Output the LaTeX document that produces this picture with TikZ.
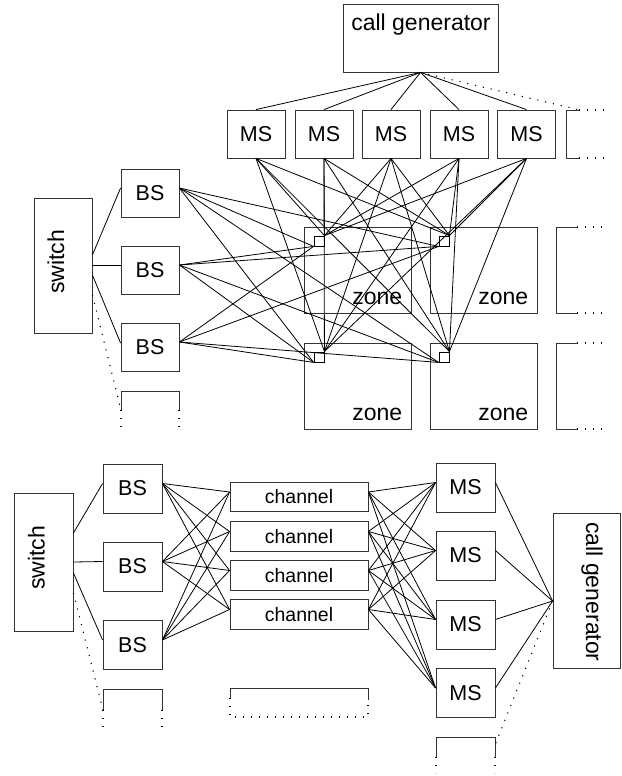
\documentclass[tikz,border=0pt]{standalone}
\usepackage{fontspec}
\setmainfont{Liberation Sans}
\begin{document}
\begin{tikzpicture}[x=1pt,y=-1pt,
  every node/.style={font=\fontsize{21.5}{24}\selectfont},
  big/.style={font=\fontsize{23}{26}\selectfont},
  boxline/.style={draw=black!80, line width=0.85pt},
  box/.style={boxline, inner sep=0pt, minimum width=58pt, minimum height=48pt},
  wire/.style={line width=0.8pt},
  dots/.style={line width=1.1pt, dash pattern=on 1.1pt off 6.9pt},
  sq/.style={draw, line width=0.85pt, inner sep=0pt, minimum size=10pt},
  lbl/.style={inner sep=0pt},
  chbox/.style={box, minimum width=138pt, minimum height=29.5pt, font=\fontsize{19.5}{22}\selectfont}
]
\useasboundingbox (0,0) rectangle (621,776);

% ---------------- upper model: zones ----------------
\node[box, minimum width=155pt, minimum height=68pt] (cgT) at (420.5,38) {};
\node[lbl, big, anchor=base] (cgTtext) at (421,31) {call generator};

\foreach \x [count=\i] in {256,324,391,459,526.5}
  \node[box] (mt\i) at (\x,134) {MS};
% open-ended sixth mobile station
\draw[boxline] (579,110) -- (566,110) -- (566,158) -- (579,158);
\draw[dots] (579,110) -- (606,110);
\draw[dots] (579,158) -- (606,158);
\coordinate (mt6) at (580,110);

\foreach \i in {1,...,5}
  \draw[wire] (cgT.south) -- (mt\i.north);
\draw[dots] (cgT.south) -- (mt6);

\node[box, minimum width=58pt, minimum height=135pt] (swT) at (63,265.5) {};
\node[lbl, big, rotate=90] (swTtext) at (56,262) {switch};

\foreach \y [count=\i] in {193,270,347}
  \node[box] (bt\i) at (150,\y) {BS\hspace{5pt}};
% open-ended fourth base station
\draw[boxline] (121,410) -- (121,391) -- (179,391) -- (179,410);
\draw[dots] (121,410) -- (121,428);
\draw[dots] (179,410) -- (179,428);
\coordinate (bt4) at (121,410);

\draw[wire] ([yshift=10.5pt]swT.east) -- ([yshift=5pt]bt1.west);
\draw[wire] ([yshift=0.5pt]swT.east) -- ([yshift=5pt]bt2.west);
\draw[wire] ([yshift=-9.5pt]swT.east) -- ([yshift=4pt]bt3.west);
\draw[dots] ([yshift=-29.5pt]swT.east) -- (bt4);

% zones
\node[box, minimum width=107pt, minimum height=86pt] (zA) at (357.5,270) {};
\node[box, minimum width=107pt, minimum height=86pt] (zB) at (483.5,270) {};
\node[box, minimum width=107pt, minimum height=86pt] (zC) at (357.5,386) {};
\node[box, minimum width=107pt, minimum height=86pt] (zD) at (483.5,386) {};
\foreach \z in {zA,zB,zC,zD}
  \node[lbl, big, anchor=base east] (\z text) at ([xshift=-9pt,yshift=9pt]\z.south east) {zone};
% open-ended zones on the right
\foreach \t/\b in {227/313,343/429}{
  \draw[boxline] (577,\t) -- (556,\t) -- (556,\b) -- (577,\b);
  \draw[dots] (577,\t) -- (606,\t);
  \draw[dots] (577,\b) -- (606,\b);
}

% zone access points
\node[sq] (qA) at (319,241) {};
\node[sq] (qB) at (444,241) {};
\node[sq] (qC) at (319,357) {};
\node[sq] (qD) at (444,357) {};

\foreach \i in {1,...,5}
  \foreach \q in {qA,qB,qC,qD}
    \draw[wire] (mt\i.south) -- (\q.north east);
\foreach \i in {1,2,3}
  \foreach \q in {qA,qB,qC,qD}
    \draw[wire] ([yshift=5pt]bt\i.east) -- (\q.south west);

% ---------------- lower model: channels ----------------
\node[box, minimum width=59pt, minimum height=138pt] (swB) at (43.5,562) {};
\node[lbl, big, rotate=90] (swBtext) at (36.5,558) {switch};

\foreach \y [count=\i] in {488.5,566.5,645}
  \node[box, minimum width=59pt, minimum height=49pt] (bb\i) at (132.5,\y) {BS\hspace{5pt}};
\draw[boxline] (103,710) -- (103,689) -- (162,689) -- (162,710);
\draw[dots] (103,710) -- (103,727);
\draw[dots] (162,710) -- (162,727);
\coordinate (bb4) at (103,710);

\draw[wire] ([yshift=29pt]swB.east) -- ([yshift=5pt]bb1.west);
\draw[wire] (swB.east) -- ([yshift=5pt]bb2.west);
\draw[wire] ([yshift=-11pt]swB.east) -- ([yshift=5pt]bb3.west);
\draw[dots] ([yshift=-31pt]swB.east) -- (bb4);

\foreach \y [count=\i] in {497,536.5,575.5,614.5}
  \node[chbox] (ch\i) at (299,\y) {channel};
\draw[boxline] (230,698) -- (230,688) -- (368,688) -- (368,700);
\draw[dots] (230,698) -- (230,717) -- (368,717) -- (368,700);

\foreach \y [count=\i] in {487.5,555.5,624.5,693}
  \node[box, minimum width=59pt, minimum height=49pt] (mb\i) at (465.5,\y) {MS};
\draw[boxline] (436,757) -- (436,737) -- (495,737) -- (495,757);
\draw[dots] (436,757) -- (436,773);
\draw[dots] (495,757) -- (495,773);
\coordinate (mb5) at (495,745);

\node[box, minimum width=67pt, minimum height=155pt] (cgB) at (586.5,590.5) {};
\node[lbl, big, rotate=-90] (cgBtext) at (592,592) {call generator};

\foreach \i in {1,2,3}
  \foreach \c in {1,...,4}
    \draw[wire] ([yshift=5pt]bb\i.east) -- ([yshift=5pt]ch\c.west);
\foreach \c in {1,...,4}
  \foreach \m in {1,...,4}
    \draw[wire] ([yshift=5pt]ch\c.east) -- ([yshift=5pt]mb\m.west);
\foreach \m in {1,...,4}
  \draw[wire] ([yshift=5pt]mb\m.east) -- ([yshift=-10.5pt]cgB.west);
\draw[dots] ([yshift=-10.5pt]cgB.west) -- (mb5);

\end{tikzpicture}
\end{document}
